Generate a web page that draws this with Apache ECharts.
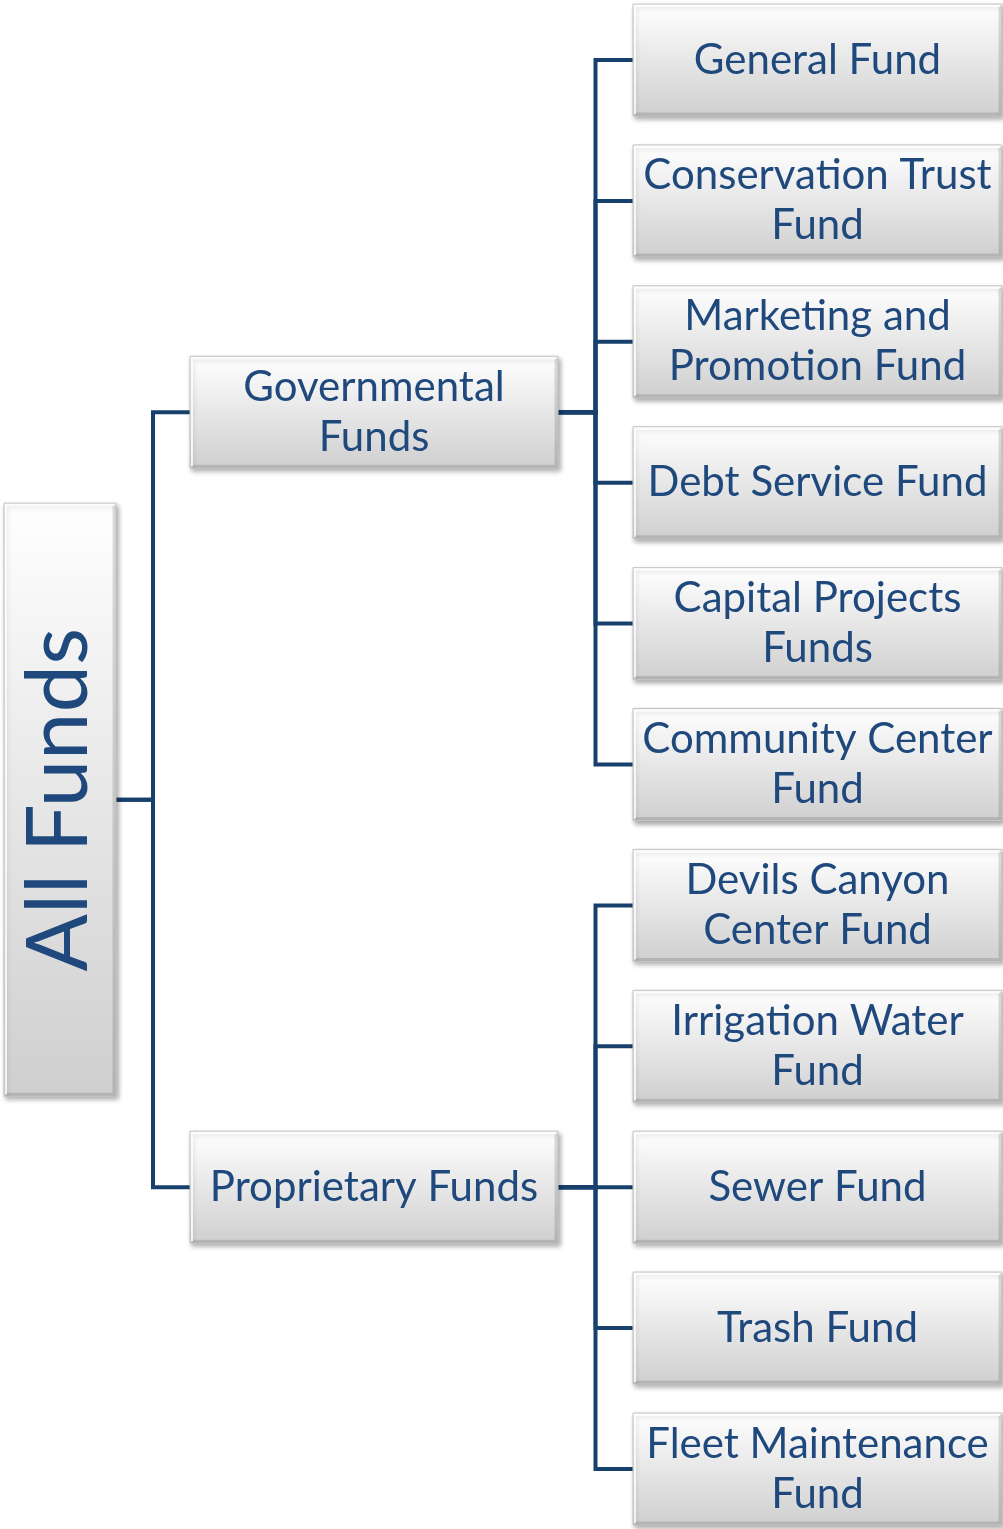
<!DOCTYPE html>
<html>
<head>
<meta charset="utf-8">
<script src="https://cdn.jsdelivr.net/npm/echarts@6/dist/echarts.min.js"></script>
<style>
  html, body { margin: 0; padding: 0; background: #fff; }
  #main { width: 1003px; height: 1529px; }
</style>
</head>
<body>
<div id="main"></div>
<script>
// tree content
var rootName = 'All Funds';
var groupNames = ['Governmental\nFunds', 'Proprietary Funds'];
var governmentalFunds = [
    'General Fund',
    'Conservation Trust\nFund',
    'Marketing and\nPromotion Fund',
    'Debt Service Fund',
    'Capital Projects\nFunds',
    'Community Center\nFund'
];
var proprietaryFunds = [
    'Devils Canyon\nCenter Fund',
    'Irrigation Water\nFund',
    'Sewer Fund',
    'Trash Fund',
    'Fleet Maintenance\nFund'
];
var groupChildren = [governmentalFunds, proprietaryFunds];

// layout: columns in x axis units, slot = one leaf row on y axis
var cols = [
    { left: 4, right: 116 },
    { left: 190, right: 558 },
    { left: 633, right: 1002 }
];
var boxH = 0.795;      // slots
var rootH = 4.21;      // slots
var textColor = '#1f497d';
var lineColor = '#17406d';

// build nodes [depth, slot, name] and edges [parentDepth, parentSlot, childSlot]
var nodes = [];
var edges = [];
var leafSlot = 0;
var groupSlots = [];
groupChildren.forEach(function (list, gi) {
    var first = leafSlot;
    list.forEach(function (name) {
        nodes.push([2, leafSlot, name]);
        leafSlot++;
    });
    var last = leafSlot - 1;
    var gs = (first + last) / 2;
    groupSlots.push(gs);
    nodes.push([1, gs, groupNames[gi]]);
    for (var s = first; s <= last; s++) edges.push([1, gs, s]);
});
var rootSlot = (groupSlots[0] + groupSlots[groupSlots.length - 1]) / 2;
nodes.push([0, rootSlot, rootName]);
groupSlots.forEach(function (gs) { edges.push([0, rootSlot, gs]); });

var myChart = echarts.init(document.getElementById('main'));

function boxItem(params, api) {
    var depth = api.value(0);
    var slot = api.value(1);
    var name = nodes[params.dataIndex][2];
    var h = depth === 0 ? rootH : boxH;
    var p0 = api.coord([cols[depth].left, slot - h / 2]);
    var p1 = api.coord([cols[depth].right, slot + h / 2]);
    var x = p0[0], y = p0[1], w = p1[0] - p0[0], hh = p1[1] - p0[1];
    var isRoot = depth === 0;
    return {
        type: 'group',
        children: [
            {
                type: 'rect',
                shape: { x: x, y: y, width: w, height: hh },
                style: {
                    fill: new echarts.graphic.LinearGradient(0, 0, 0, 1, [
                        { offset: 0, color: '#ffffff' },
                        { offset: 1, color: '#cfcfcf' }
                    ]),
                    stroke: '#c4c4c4',
                    lineWidth: 1,
                    shadowBlur: 5,
                    shadowOffsetX: 2,
                    shadowOffsetY: 3,
                    shadowColor: 'rgba(0,0,0,0.35)'
                }
            },
            {
                type: 'polyline',
                shape: { points: [[x + w - 2, y + 2], [x + w - 2, y + hh - 2], [x + 2, y + hh - 2]] },
                style: { stroke: 'rgba(0,0,0,0.12)', lineWidth: 3, fill: null }
            },
            {
                type: 'polyline',
                shape: { points: [[x + 2, y + hh - 2], [x + 2, y + 2], [x + w - 2, y + 2]] },
                style: { stroke: 'rgba(255,255,255,0.8)', lineWidth: 2, fill: null }
            },
            {
                type: 'text',
                x: x + w / 2,
                y: y + hh / 2,
                rotation: isRoot ? Math.PI / 2 : 0,
                style: {
                    text: name,
                    fill: textColor,
                    font: (isRoot ? '85px' : '42px') + ' Lato',
                    lineHeight: 50,
                    align: 'center',
                    verticalAlign: 'middle'
                }
            }
        ]
    };
}

function edgeItem(params, api) {
    var pd = api.value(0);
    var ps = api.value(1);
    var cs = api.value(2);
    var jx = (cols[pd].right + cols[pd + 1].left) / 2;
    var a = api.coord([cols[pd].right, ps]);
    var b = api.coord([jx, ps]);
    var c = api.coord([jx, cs]);
    var d = api.coord([cols[pd + 1].left, cs]);
    return {
        type: 'polyline',
        shape: { points: [a, b, c, d] },
        style: { stroke: lineColor, lineWidth: 4, fill: null, lineJoin: 'miter', lineCap: 'butt' }
    };
}

var option = {
    animation: false,
    grid: { left: 0, right: 0, top: 0, bottom: 0 },
    xAxis: { type: 'value', min: 0, max: 1003, show: false },
    yAxis: { type: 'value', min: -0.426, max: 10.426, inverse: true, show: false },
    series: [
        {
            type: 'custom',
            renderItem: edgeItem,
            data: edges,
            z: 1,
            silent: true
        },
        {
            type: 'custom',
            renderItem: boxItem,
            data: nodes.map(function (n) { return [n[0], n[1]]; }),
            z: 2,
            silent: true
        }
    ]
};

myChart.setOption(option);
</script>
</body>
</html>
